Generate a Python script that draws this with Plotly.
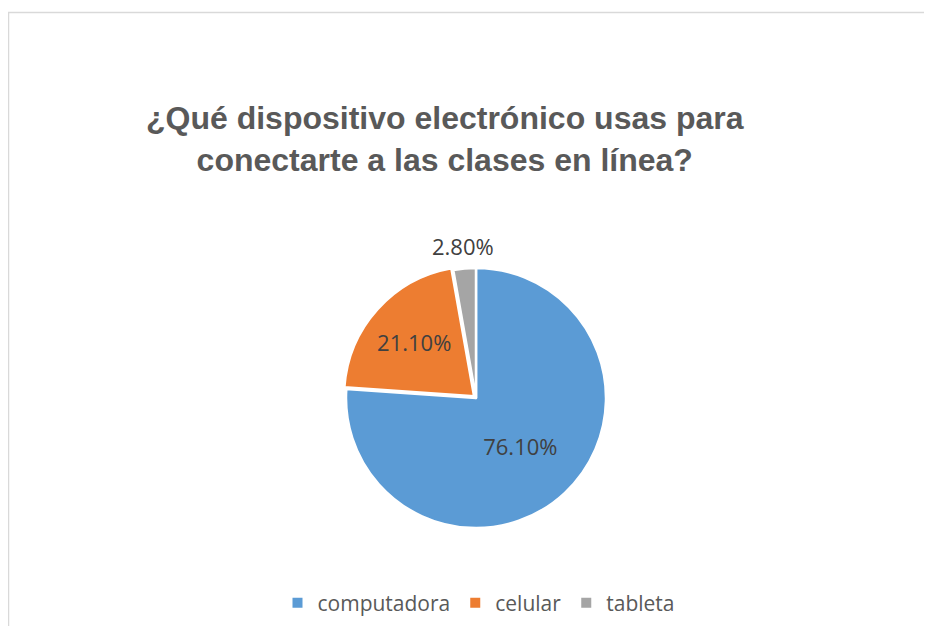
import math
import plotly.graph_objects as go

categories = ["computadora", "celular", "tableta"]
values = [76.1, 21.1, 2.8]
colors = ["#5B9BD5", "#ED7D31", "#A5A5A5"]
text_templates = ["%{percent:.2%}", "%{percent:.2%}", ""]
pulls = [0, 0.02, 0]
title_text = "<b>¿Qué dispositivo electrónico usas para<br>conectarte a las clases en línea?</b>"

# page has an 8px body margin; work in screen coordinates and convert
OFF = 8
W, H = 932 - 2 * OFF, 634 - 2 * OFF


def px(x):
    return (x - OFF) / W


def py(y):
    return 1 - (y - OFF) / H


cx, cy, r = 476, 398, 130
half = r * (1 + max(pulls))

fig = go.Figure(go.Pie(
    labels=categories,
    values=values,
    marker=dict(colors=colors, line=dict(color="white", width=2.5)),
    sort=False,
    direction="clockwise",
    rotation=0,
    pull=pulls,
    texttemplate=text_templates,
    textposition="inside",
    textfont=dict(family="Open Sans", size=22, color="#404040"),
    insidetextorientation="horizontal",
    hoverinfo="label+percent",
    domain=dict(x=[px(cx - half), px(cx + half)],
                y=[py(cy + half), py(cy - half)]),
))

# outside label for the small slice, placed from its mid angle
total = sum(values)
mid_frac = (sum(values[:2]) + values[2] / 2) / total
ang = 2 * math.pi * mid_frac
lab_r = r * 1.17
lx = cx + lab_r * math.sin(ang)
ly = cy - lab_r * math.cos(ang)

fig.update_layout(
    width=W, height=H,
    margin=dict(l=0, r=0, t=0, b=0),
    paper_bgcolor="white",
    plot_bgcolor="white",
    showlegend=True,
    legend=dict(orientation="h", x=px(479), xanchor="center", y=py(603), yanchor="middle",
                font=dict(family="Open Sans", size=21, color="#595959"),
                itemsizing="constant", traceorder="normal"),
    annotations=[
        dict(text=title_text, x=px(444.5), y=py(138.5), xref="paper", yref="paper",
             xanchor="center", yanchor="middle", showarrow=False, align="center",
             font=dict(family="Liberation Sans", size=32, color="#595959")),
        dict(text=f"{values[2] / total:.2%}", x=px(lx), y=py(ly), xref="paper", yref="paper",
             xanchor="center", yanchor="middle", showarrow=False,
             font=dict(family="Open Sans", size=22, color="#404040")),
    ],
    shapes=[dict(type="rect", xref="paper", yref="paper", x0=px(8.5), x1=1.05, y0=-0.05, y1=py(12.5),
                 line=dict(color="#D9D9D9", width=1.5), layer="below")],
)

fig.write_html("out.html")
